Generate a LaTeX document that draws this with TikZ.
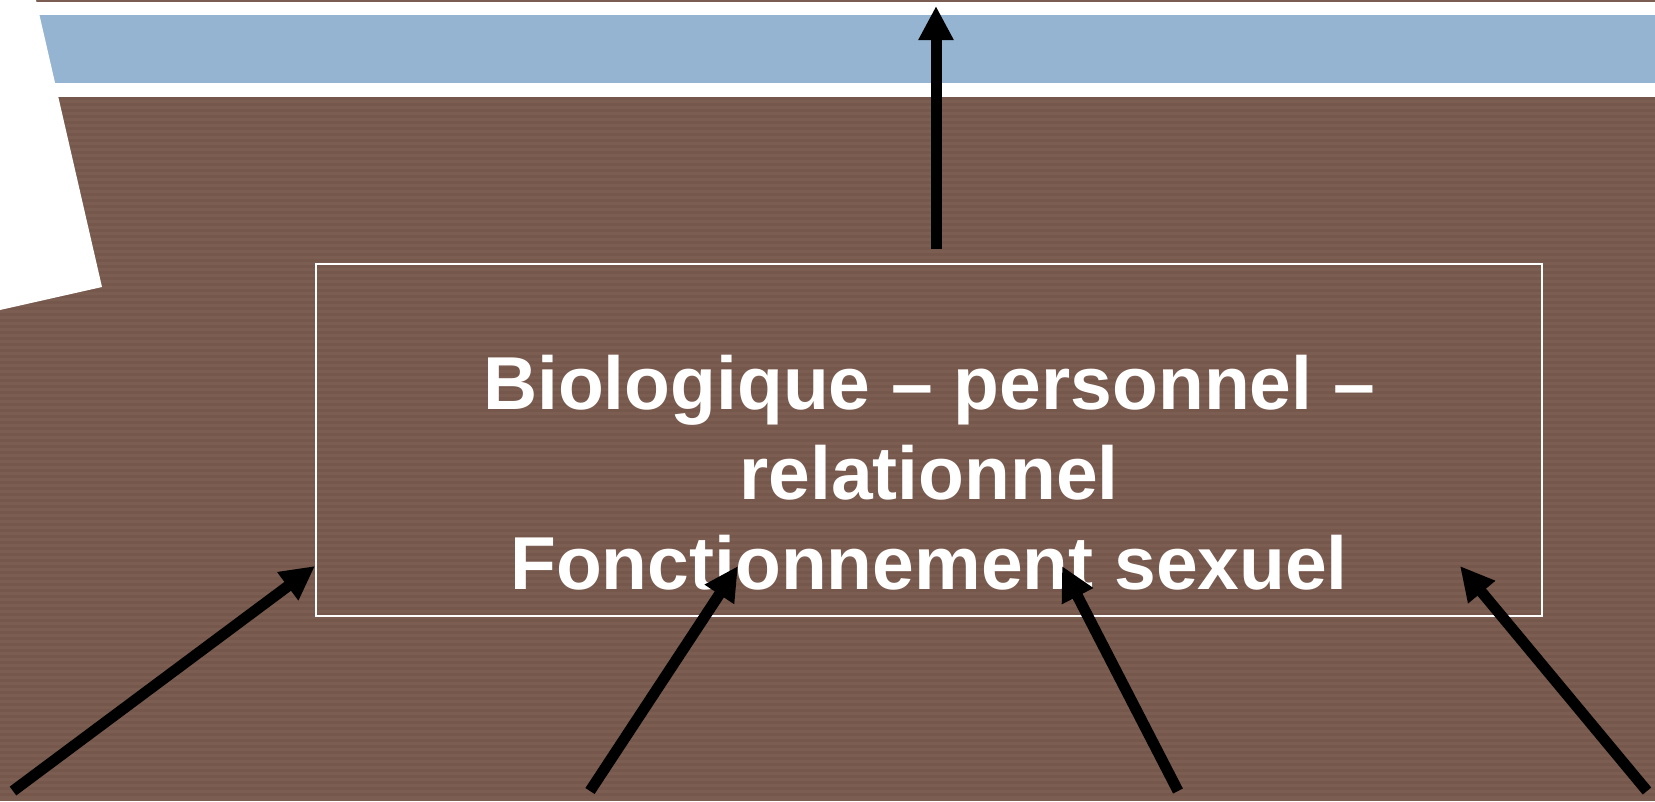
\documentclass[tikz,border=0pt]{standalone}
\usepackage{fontspec}
\setmainfont{Liberation Sans}
\usetikzlibrary{arrows.meta}

\definecolor{bark}{HTML}{7B5D51}
\definecolor{barkdark}{HTML}{76574B}
\definecolor{skyband}{HTML}{94B4D2}

\tikzset{
    pointer/.style={line width=11pt, -{Triangle[length=34pt,width=33pt]}},
    frame/.style={draw=white, line width=2pt, minimum width=1226pt, minimum height=352pt, inner sep=0pt},
}

\begin{document}
\begin{tikzpicture}[x=1pt,y=-1pt]
    \useasboundingbox (0,0) rectangle (1655,801);
    \fill[white] (0,0) rectangle (1655,801);

    % bands
    \fill[bark] (36,0) rectangle (1655,1.5);
    \fill[skyband] (0,15) rectangle (1655,83);
    \fill[bark] (0,97) rectangle (1655,801);
    \foreach \y in {97,103,...,797}{
        \fill[barkdark] (0,\y) rectangle (1655,\y+3);
    }

    % sheet of paper
    \fill[white] (0,0) -- (36,0) -- (102,287) -- (0,310) -- cycle;

    \node[frame] (box) at (929,440) {};
    \node[white, font=\fontsize{75}{90}\selectfont\bfseries, align=center, inner sep=0pt] (label) at (929,473)
        {Biologique – personnel –\\ relationnel\\ Fonctionnement sexuel};

    \coordinate (up) at (936,249);
    \coordinate (sky) at (936,6);
    \draw[pointer] (up) -- (sky);

    \foreach \tail/\tip [count=\i] in {13/315, 590/738, 1178/1062, 1647/1460}{
        \coordinate (foot\i) at (\tail,791);
        \coordinate (aim\i) at (\tip,566);
        \draw[pointer] (foot\i) -- (aim\i);
    }

\end{tikzpicture}
\end{document}
